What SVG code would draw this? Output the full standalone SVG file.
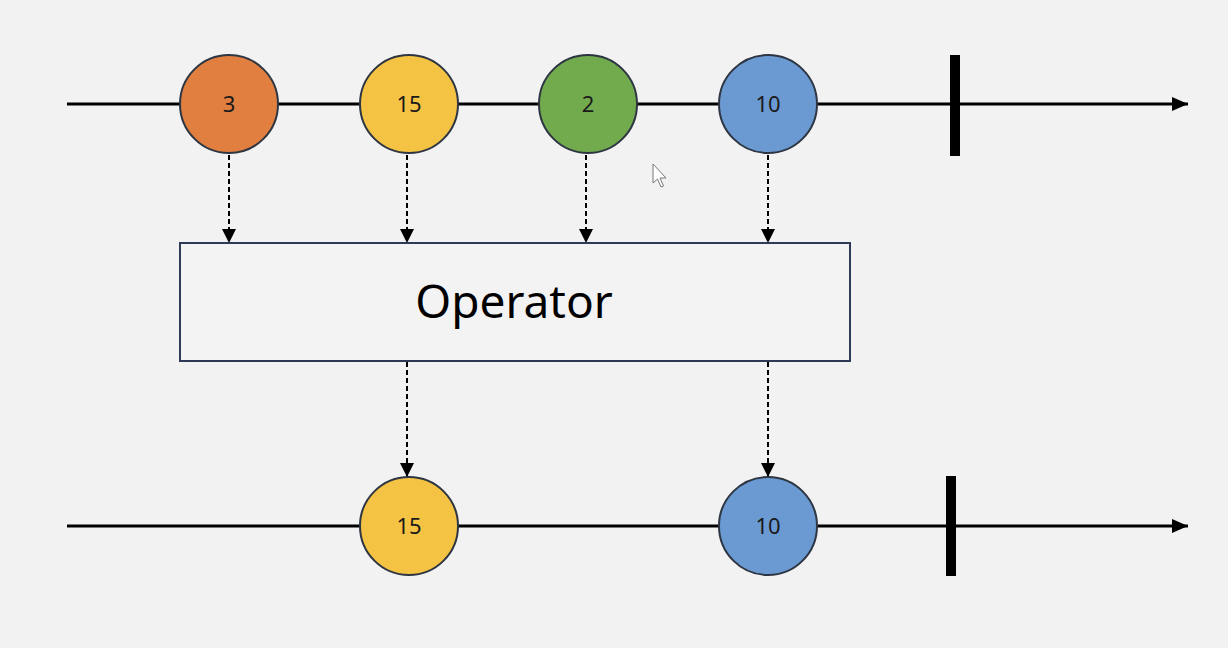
<svg xmlns="http://www.w3.org/2000/svg" width="1228" height="648" viewBox="0 0 1228 648">
<defs>
<style>
.timeline{stroke:#000;stroke-width:3;fill:none}
.term{fill:#000}
.flow{stroke:#000;stroke-width:2;stroke-dasharray:5 3;fill:none}
.marble{stroke:#2d3642;stroke-width:2}
.mlabel{font-family:"Noto Sans","Open Sans",sans-serif;font-size:22px;fill:#1a1a1a;text-anchor:middle}
.op{fill:#f3f3f3;stroke:#2f3a58;stroke-width:2}
.oplabel{font-family:"Noto Sans","Open Sans",sans-serif;font-size:46px;fill:#000;text-anchor:middle}
</style>
<marker id="tl" markerWidth="16" markerHeight="14" refX="16" refY="7" orient="auto" markerUnits="userSpaceOnUse">
<path d="M0,0 L16,7 L0,14 Z" fill="#000"/>
</marker>
<marker id="fa" markerWidth="14" markerHeight="14" refX="14" refY="7" orient="auto" markerUnits="userSpaceOnUse">
<path d="M0,0 L14,7 L0,14 Z" fill="#000"/>
</marker>
</defs>
<rect width="1228" height="648" fill="#f2f2f2"/>
<g id="connectors">
<line class="timeline" x1="67" y1="104" x2="1188" y2="104" marker-end="url(#tl)"/>
<line class="timeline" x1="67" y1="526" x2="1188" y2="526" marker-end="url(#tl)"/>
<line class="flow" x1="229" y1="155" x2="229" y2="243" marker-end="url(#fa)"/>
<line class="flow" x1="407" y1="155" x2="407" y2="243" marker-end="url(#fa)"/>
<line class="flow" x1="586" y1="155" x2="586" y2="243" marker-end="url(#fa)"/>
<line class="flow" x1="768" y1="155" x2="768" y2="243" marker-end="url(#fa)"/>
<line class="flow" x1="407" y1="362" x2="407" y2="477" marker-end="url(#fa)"/>
<line class="flow" x1="768" y1="362" x2="768" y2="477" marker-end="url(#fa)"/>
</g>
<g id="term-top"><rect class="term" x="950" y="55" width="10" height="101"/></g>
<g id="term-bottom"><rect class="term" x="946" y="476" width="10" height="100"/></g>
<g id="m-3"><circle class="marble" cx="229" cy="104" r="49" fill="#e07f3f"/><text class="mlabel" x="229" y="112">3</text></g>
<g id="m-15"><circle class="marble" cx="409" cy="104" r="49" fill="#f5c343"/><text class="mlabel" x="409" y="112">15</text></g>
<g id="m-2"><circle class="marble" cx="588" cy="104" r="49" fill="#72aa4e"/><text class="mlabel" x="588" y="112">2</text></g>
<g id="m-10"><circle class="marble" cx="768" cy="104" r="49" fill="#6b99d1"/><text class="mlabel" x="768" y="112">10</text></g>
<g id="operator"><rect class="op" x="180" y="243" width="670" height="118"/><text class="oplabel" x="514" y="318">Operator</text></g>
<g id="o-15"><circle class="marble" cx="409" cy="526" r="49" fill="#f5c343"/><text class="mlabel" x="409" y="534">15</text></g>
<g id="o-10"><circle class="marble" cx="768" cy="526" r="49" fill="#6b99d1"/><text class="mlabel" x="768" y="534">10</text></g>
<g id="cursor"><path d="M653,164 L653,183 L657.5,179 L661,187 L663.5,186 L660,178 L666,178 Z" fill="#fff" stroke="#777" stroke-width="1"/></g>
</svg>
